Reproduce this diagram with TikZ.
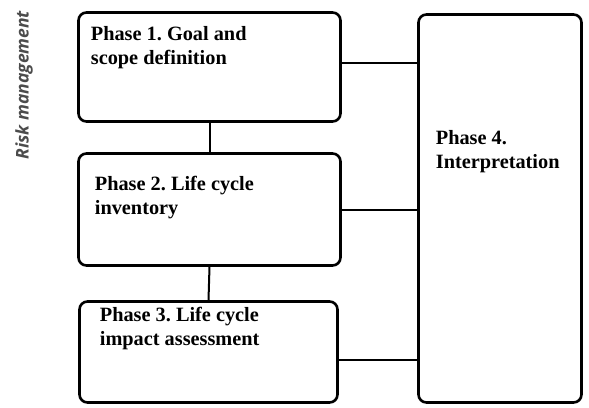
\documentclass[tikz,border=0pt]{standalone}
\usepackage{fontspec}
\setmainfont{Liberation Serif}
\newfontfamily\riskfont{Open Sans}
\usetikzlibrary{positioning}
\frenchspacing
\tikzstyle{phasebox}=[draw,rounded corners=8pt,line width=2.6pt,inner sep=0pt]
\tikzstyle{phasetext}=[anchor=north west,align=left,inner sep=0pt,font=\fontsize{20.3}{24}\selectfont\bfseries]
\tikzstyle{link}=[draw,line width=2pt]

\begin{document}
\begin{tikzpicture}[x=1pt,y=-1pt]
\useasboundingbox (0,0) rectangle (589,407);

    % First we draw the phase boxes
    \foreach \pos/\name/\w/\h in {{(209.5,67)/P1/262pt/109pt}, {(209.5,209.5)/P2/262pt/112pt}, {(208.5,352)/P3/258pt/101pt}, {(500,208.5)/P4/163pt/388pt}}
        \node[phasebox,minimum width=\w,minimum height=\h] (\name) at \pos {};

    % Texts in the upper left corner of each box
    \node[phasetext] (T1) at ([xshift=13.5pt,yshift=-15.5pt]P1.north west) {Phase 1. Goal and\\scope definition};
    \node[phasetext] (T2) at ([xshift=17.5pt,yshift=-23.5pt]P2.north west) {Phase 2. Life cycle\\inventory};
    \node[phasetext] (T3) at ([xshift=21.5pt,yshift=-7pt]P3.north west) {Phase 3. Life cycle\\impact assessment};
    \node[phasetext] (T4) at ([xshift=18.5pt,yshift=-117.5pt]P4.north west) {Phase 4.\\Interpretation};

    % Connect the boxes
    \path[link] (P1.south) -- (P2.north);
    \path[link] (P2.south) -- (P3.north);
    \foreach \source/\y in {P1/63, P2/209.5, P3/360}
        \path[link] (\source.east |- 0,\y) -- (P4.west |- 0,\y);

\node[rotate=90,text=black!70,font=\riskfont\bfseries\itshape\fontsize{17.5}{17.5}\selectfont] (risk) at (24,85) {Risk management};

\end{tikzpicture}
\end{document}
